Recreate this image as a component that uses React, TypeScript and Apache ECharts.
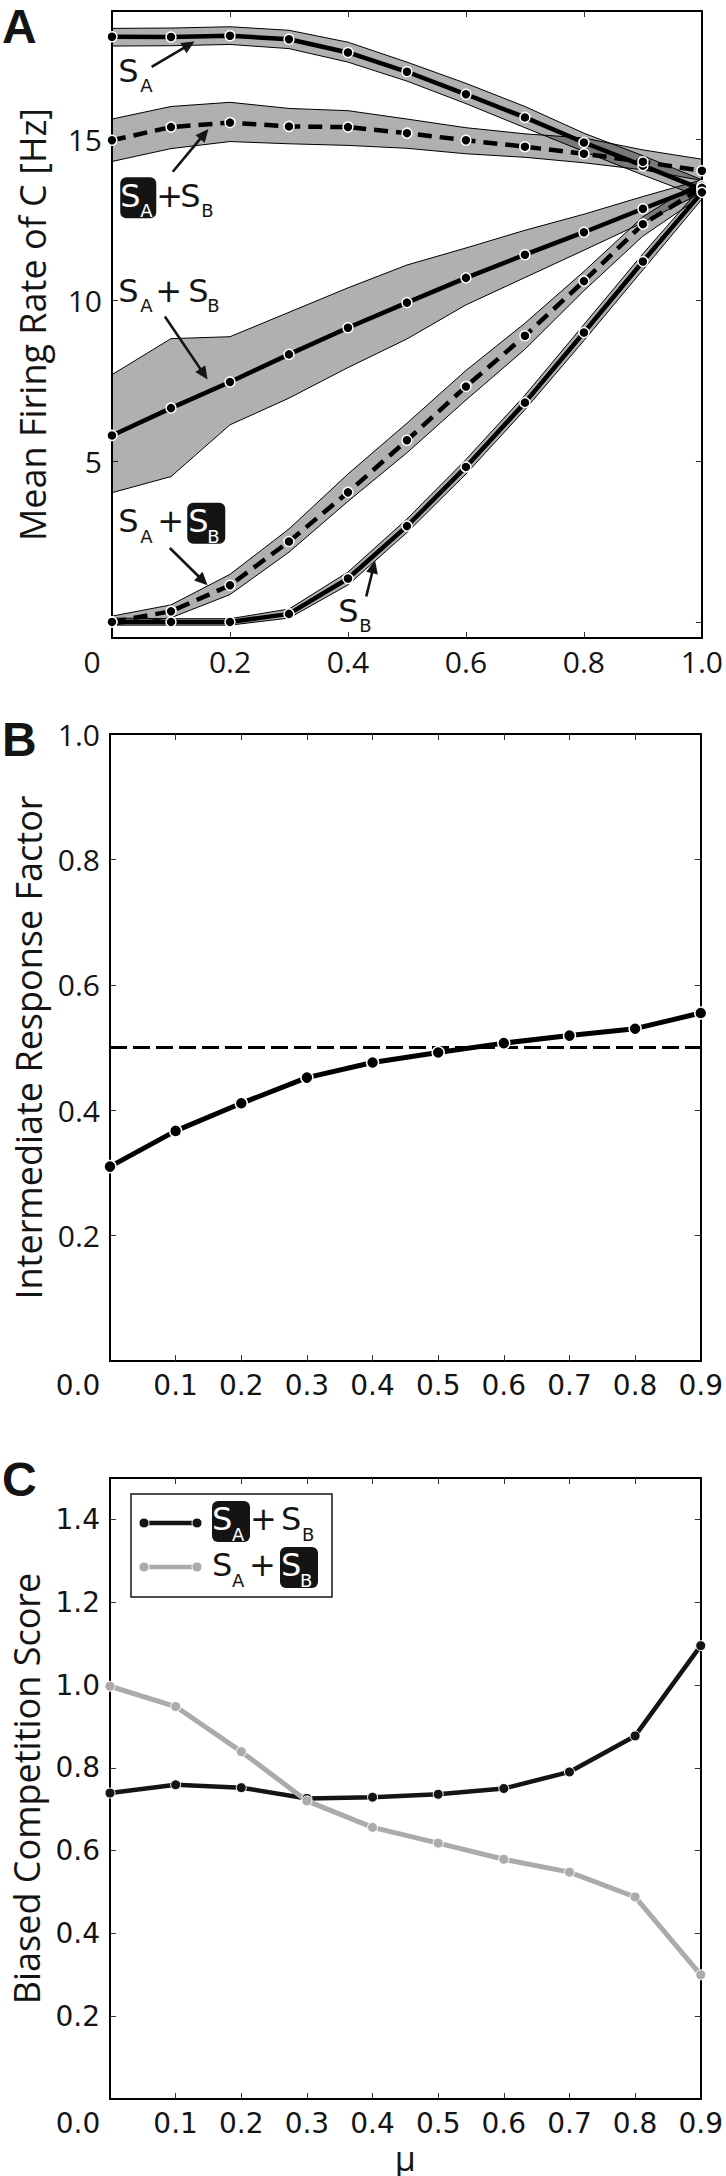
import { useEffect, useRef } from 'react';
import * as echarts from 'echarts';

// ---------------- data ----------------
const MU_A = [0, 0.1, 0.2, 0.3, 0.4, 0.5, 0.6, 0.7, 0.8, 0.9, 1.0];
const MU_BC = [0, 0.1, 0.2, 0.3, 0.4, 0.5, 0.6, 0.7, 0.8, 0.9];

// Panel A: mean firing rate of C [Hz] (line) with its shaded range
const RATE_SA = [18.2, 18.19, 18.23, 18.12, 17.71, 17.11, 16.41, 15.69, 14.91, 14.19, 13.45];
const RATE_SA_UP = [18.46, 18.47, 18.51, 18.4, 18.03, 17.41, 16.75, 16.03, 15.2, 14.5, 13.75];
const RATE_SA_LO = [17.91, 17.92, 17.96, 17.83, 17.41, 16.82, 16.12, 15.37, 14.63, 13.9, 13.2];

const RATE_ATT_A = [14.98, 15.39, 15.53, 15.41, 15.39, 15.2, 14.98, 14.78, 14.56, 14.31, 14.03];
const RATE_ATT_A_UP = [15.64, 16.03, 16.16, 15.97, 15.9, 15.64, 15.37, 15.18, 15.05, 14.68, 14.39];
const RATE_ATT_A_LO = [14.32, 14.72, 14.94, 14.87, 14.82, 14.73, 14.56, 14.45, 14.28, 14.06, 13.73];

const RATE_PAIR = [5.8, 6.65, 7.46, 8.32, 9.15, 9.93, 10.7, 11.42, 12.12, 12.85, 13.56];
const RATE_PAIR_UP = [7.69, 8.81, 8.87, 9.63, 10.39, 11.1, 11.63, 12.18, 12.68, 13.23, 13.75];
const RATE_PAIR_LO = [4.02, 4.52, 6.13, 6.96, 7.91, 8.8, 9.86, 10.71, 11.56, 12.42, 13.35];

const RATE_ATT_B = [0, 0.33, 1.14, 2.5, 4.03, 5.65, 7.32, 8.9, 10.6, 12.37, 13.5];
const RATE_ATT_B_UP = [0.18, 0.53, 1.48, 2.89, 4.6, 6.18, 7.82, 9.29, 10.9, 12.6, 13.75];
const RATE_ATT_B_LO = [-0.1, 0.13, 0.85, 2.17, 3.75, 5.26, 6.9, 8.48, 10.3, 12.0, 13.25];

const RATE_SB = [0, 0, 0, 0.25, 1.35, 2.98, 4.82, 6.82, 9.0, 11.21, 13.36];
const RATE_SB_UP = [0.12, 0.1, 0.1, 0.4, 1.55, 3.2, 5.05, 7.05, 9.25, 11.45, 13.55];
const RATE_SB_LO = [-0.1, -0.1, -0.1, 0.12, 1.15, 2.78, 4.6, 6.6, 8.75, 10.95, 13.15];

// Panel B: intermediate response factor
const IRF = [0.31, 0.367, 0.411, 0.452, 0.476, 0.492, 0.507, 0.519, 0.53, 0.555];
const IRF_REFERENCE = 0.5;

// Panel C: biased competition score
const BCS_ATT_A = [0.739, 0.759, 0.752, 0.726, 0.729, 0.736, 0.75, 0.79, 0.877, 1.095];
const BCS_ATT_B = [0.997, 0.948, 0.839, 0.72, 0.656, 0.618, 0.579, 0.548, 0.488, 0.3];

// tick values / labels
const A_X_TICKS = [0.2, 0.4, 0.6, 0.8];
const A_X_LABELS = [0, 0.2, 0.4, 0.6, 0.8, 1.0];
const A_Y_TICKS = [0, 5, 10, 15];
const A_Y_LABELS = [5, 10, 15];
const BC_X_TICKS = [0.1, 0.2, 0.3, 0.4, 0.5, 0.6, 0.7, 0.8];
const BC_X_LABELS = [0, 0.1, 0.2, 0.3, 0.4, 0.5, 0.6, 0.7, 0.8, 0.9];
const B_Y_TICKS = [0.2, 0.4, 0.6, 0.8];
const B_Y_LABELS = [0.2, 0.4, 0.6, 0.8, 1.0];
const C_Y_TICKS = [0.2, 0.4, 0.6, 0.8, 1.0, 1.2, 1.4];
const C_Y_LABELS = [0.2, 0.4, 0.6, 0.8, 1.0, 1.2, 1.4];

// ---------------- style / layout ----------------
const INK = '#141414';
const GREY = '#ababab';
const BAND_FILL = 'rgba(0,0,0,0.31)';
const F_OPEN = '"Open Sans", sans-serif';
const F_DV = '"DejaVu Sans", sans-serif';
const F_PANEL = '"Liberation Sans", Arial, sans-serif';

const GRID_A = { left: 112, top: 11, width: 595, height: 627 };
const GRID_B = { left: 110, top: 734, width: 595, height: 627 };
const GRID_C = { left: 110, top: 1478, width: 595, height: 625 };

const f1 = (v: number) => v.toFixed(1);

function xAxes(gridIndex: number, min: number, max: number, ticks: number[], labels: number[],
  fmt: (v: number) => string, font: string, fontSize: number, margin: number, firstShift: number, extra: any = {}) {
  const line = { show: true, onZero: false, lineStyle: { color: '#000', width: 2 } };
  const tick = { show: true, inside: true, length: 6, lineStyle: { color: '#333', width: 1 }, customValues: ticks };
  return [
    {
      type: 'value', gridIndex, position: 'bottom', min, max,
      axisLine: line, axisTick: tick, splitLine: { show: false },
      axisLabel: {
        show: true, customValues: labels, margin, fontFamily: font, fontSize, color: INK,
        formatter: (v: number) => (v === labels[0] ? `{first|${fmt(v)}}` : fmt(v)),
        rich: { first: { fontFamily: font, fontSize, color: INK, padding: [0, firstShift * 2, 0, 0] } },
      },
      ...extra,
    },
    {
      type: 'value', gridIndex, position: 'top', min, max,
      axisLine: line, axisTick: tick, splitLine: { show: false }, axisLabel: { show: false },
    },
  ];
}

function yAxes(gridIndex: number, min: number, max: number, ticks: number[], labels: number[],
  fmt: (v: number) => string, font: string, fontSize: number, name: string, nameGap: number) {
  const line = { show: true, onZero: false, lineStyle: { color: '#000', width: 2 } };
  const tick = { show: true, inside: true, length: 6, lineStyle: { color: '#333', width: 1 }, customValues: ticks };
  return [
    {
      type: 'value', gridIndex, position: 'left', min, max,
      axisLine: line, axisTick: tick, splitLine: { show: false },
      axisLabel: { show: true, customValues: labels, margin: 10, fontFamily: font, fontSize, color: INK, formatter: fmt },
      name, nameLocation: 'middle', nameGap,
      nameTextStyle: { fontFamily: F_OPEN, fontSize: 36, color: INK },
    },
    {
      type: 'value', gridIndex, position: 'right', min, max,
      axisLine: line, axisTick: tick, splitLine: { show: false }, axisLabel: { show: false },
    },
  ];
}

function band(up: number[], lo: number[]) {
  return {
    type: 'custom', xAxisIndex: 0, yAxisIndex: 0, silent: true, z: 2,
    data: [[0, 0]],
    renderItem: (_p: any, api: any) => {
      const pts: number[][] = [];
      for (let i = 0; i < MU_A.length; i++) pts.push(api.coord([MU_A[i], up[i]]));
      for (let i = MU_A.length - 1; i >= 0; i--) pts.push(api.coord([MU_A[i], lo[i]]));
      return { type: 'polygon', shape: { points: pts }, style: { fill: BAND_FILL, stroke: '#000', lineWidth: 1 } };
    },
  };
}

function rateLine(name: string, vals: number[], dashed: boolean) {
  return {
    type: 'line', name, xAxisIndex: 0, yAxisIndex: 0, z: 3,
    data: MU_A.map((x, i) => [x, vals[i]]),
    symbol: 'circle', symbolSize: 10, showAllSymbol: true,
    lineStyle: { color: '#000', width: 4.5, type: dashed ? [14, 8] : 'solid' },
    itemStyle: { color: '#000', borderColor: '#fff', borderWidth: 1.5 },
  };
}

function buildOption(): any {
  return {
    animation: false,
    backgroundColor: '#fff',
    grid: [
      { ...GRID_A, containLabel: false },
      { ...GRID_B, containLabel: false },
      { ...GRID_C, containLabel: false },
    ],
    xAxis: [
      ...xAxes(0, 0, 1, A_X_TICKS, A_X_LABELS, (v) => (v === 0 ? '0' : f1(v)), F_OPEN, 30, 8, 20),
      ...xAxes(1, 0, 0.9, BC_X_TICKS, BC_X_LABELS, f1, F_DV, 28, 10, 32),
      ...xAxes(2, 0, 0.9, BC_X_TICKS, BC_X_LABELS, f1, F_DV, 28, 10, 32, {
        name: 'μ', nameLocation: 'middle', nameGap: 42,
        nameTextStyle: { fontFamily: F_OPEN, fontSize: 34, color: INK },
      }),
    ],
    yAxis: [
      ...yAxes(0, -0.5, 19, A_Y_TICKS, A_Y_LABELS, (v) => String(v), F_OPEN, 30, 'Mean Firing Rate of C [Hz]', 62),
      ...yAxes(1, 0, 1, B_Y_TICKS, B_Y_LABELS, f1, F_OPEN, 30, 'Intermediate Response Factor', 60),
      ...yAxes(2, 0, 1.5, C_Y_TICKS, C_Y_LABELS, f1, F_DV, 28, 'Biased Competition Score', 60),
    ],
    series: [
      band(RATE_SA_UP, RATE_SA_LO),
      band(RATE_ATT_A_UP, RATE_ATT_A_LO),
      band(RATE_PAIR_UP, RATE_PAIR_LO),
      band(RATE_ATT_B_UP, RATE_ATT_B_LO),
      band(RATE_SB_UP, RATE_SB_LO),
      rateLine('S_A', RATE_SA, false),
      rateLine('S_A(attended) + S_B', RATE_ATT_A, true),
      rateLine('S_A + S_B', RATE_PAIR, false),
      rateLine('S_A + S_B(attended)', RATE_ATT_B, true),
      rateLine('S_B', RATE_SB, false),
      {
        type: 'line', name: 'reference', xAxisIndex: 2, yAxisIndex: 2, z: 2, silent: true,
        data: [[MU_BC[0], IRF_REFERENCE], [MU_BC[MU_BC.length - 1], IRF_REFERENCE]],
        symbol: 'none', lineStyle: { color: '#000', width: 3, type: [17, 6] },
      },
      {
        type: 'line', name: 'Intermediate Response Factor', xAxisIndex: 2, yAxisIndex: 2, z: 3,
        data: MU_BC.map((x, i) => [x, IRF[i]]),
        symbol: 'circle', symbolSize: 12, showAllSymbol: true,
        lineStyle: { color: '#000', width: 5 },
        itemStyle: { color: '#000', borderColor: '#fff', borderWidth: 1.5 },
      },
      {
        type: 'line', name: 'S_A(attended) + S_B', xAxisIndex: 4, yAxisIndex: 4, z: 3,
        data: MU_BC.map((x, i) => [x, BCS_ATT_A[i]]),
        symbol: 'circle', symbolSize: 10, showAllSymbol: true,
        lineStyle: { color: INK, width: 4.5 },
        itemStyle: { color: INK, borderColor: '#fff', borderWidth: 1 },
      },
      {
        type: 'line', name: 'S_A + S_B(attended)', xAxisIndex: 4, yAxisIndex: 4, z: 3,
        data: MU_BC.map((x, i) => [x, BCS_ATT_B[i]]),
        symbol: 'circle', symbolSize: 10, showAllSymbol: true,
        lineStyle: { color: GREY, width: 5 },
        itemStyle: { color: GREY, borderColor: '#fff', borderWidth: 1 },
      },
    ],
  };
}

// ---------------- annotations (panel A, data coordinates) ----------------
type Part = { t?: string; dx?: number; sub?: boolean; inv?: boolean; box?: number[] };
const MAIN_FS = 32;
const SUB_FS = 18;
const SUB_DROP = 10;
const LSB: Record<string, number> = { S: 2, '+': 3, A: 0, B: 2 };

const LBL_SA: Part[] = [{ t: 'S', dx: 0 }, { t: 'A', dx: 20, sub: true }];
const LBL_SB: Part[] = [{ t: 'S', dx: 0 }, { t: 'B', dx: 20, sub: true }];
const LBL_ATT_A: Part[] = [
  { box: [0, -30, 36, 41] }, { t: 'S', dx: 2, inv: true }, { t: 'A', dx: 20, sub: true, inv: true },
  { t: '+', dx: 39 }, { t: 'S', dx: 62 }, { t: 'B', dx: 82, sub: true },
];
const LBL_PAIR: Part[] = [
  { t: 'S', dx: 0 }, { t: 'A', dx: 20, sub: true }, { t: '+', dx: 38 }, { t: 'S', dx: 70 }, { t: 'B', dx: 88, sub: true },
];
const LBL_ATT_B: Part[] = [
  { t: 'S', dx: 0 }, { t: 'A', dx: 20, sub: true }, { t: '+', dx: 40 },
  { box: [67, -30, 38, 41] }, { t: 'S', dx: 70, inv: true }, { t: 'B', dx: 88, sub: true, inv: true },
];
const LEG_ATT_A: Part[] = [
  { box: [0, -30, 38, 41] }, { t: 'S', dx: 2, inv: true }, { t: 'A', dx: 20, sub: true, inv: true },
  { t: '+', dx: 41 }, { t: 'S', dx: 71 }, { t: 'B', dx: 91, sub: true },
];
const LEG_ATT_B: Part[] = [
  { t: 'S', dx: 0 }, { t: 'A', dx: 18, sub: true }, { t: '+', dx: 38 },
  { box: [66, -30, 38, 41] }, { t: 'S', dx: 69, inv: true }, { t: 'B', dx: 87, sub: true, inv: true },
];

const ANNOTATIONS = [
  { parts: LBL_SA, at: [0.014, 16.79], from: [0.0672, 17.26], to: [0.14, 18.05] },
  { parts: LBL_ATT_A, at: [0.014, 12.9], from: [0.103, 14.0], to: [0.1635, 15.33] },
  { parts: LBL_PAIR, at: [0.014, 9.94], from: [0.0896, 9.5], to: [0.162, 7.54] },
  { parts: LBL_ATT_B, at: [0.014, 2.77], from: [0.098, 2.3], to: [0.162, 1.14] },
  { parts: LBL_SB, at: [0.387, -0.01], from: [0.431, 0.79], to: [0.446, 1.91] },
];

const LEGEND_BOX = { x: 131, y: 1494, w: 201, h: 103 };
const LEGEND_ROWS = [
  { y: 1523, color: INK, parts: LEG_ATT_A, tx: 212, base: 1531 },
  { y: 1567, color: GREY, parts: LEG_ATT_B, tx: 214, base: 1577 },
];
const LEGEND_LINE_X = [144, 197];

const PANEL_LETTERS = [
  { t: 'A', x: 2, base: 44 },
  { t: 'B', x: 2, base: 757 },
  { t: 'C', x: 2, base: 1497 },
];

function textEl(text: string, x: number, baseline: number, fs: number, font: string, fill: string, weight = 'normal') {
  const central = baseline - 0.36 * fs;
  return {
    type: 'text', x, y: central, silent: true, z: 10,
    style: {
      text, fontFamily: font, fontSize: fs, fontWeight: weight, fill,
      align: 'left', verticalAlign: 'middle', textAlign: 'left', textVerticalAlign: 'middle',
    },
  };
}

function labelEls(parts: Part[], x0: number, b0: number): any[] {
  const els: any[] = [];
  for (const p of parts) {
    if (p.box) {
      els.push({
        type: 'rect', silent: true, z: 10,
        shape: { x: x0 + p.box[0], y: b0 + p.box[1], width: p.box[2], height: p.box[3], r: 6 },
        style: { fill: INK },
      });
    } else if (p.t) {
      const fs = p.sub ? SUB_FS : MAIN_FS;
      const lsb = (LSB[p.t] || 0) * fs / MAIN_FS;
      els.push(textEl(p.t, x0 + (p.dx || 0) - lsb, b0 + (p.sub ? SUB_DROP : 0), fs, F_DV, p.inv ? '#fff' : INK));
    }
  }
  return els;
}

function arrowEls(x1: number, y1: number, x2: number, y2: number): any[] {
  const dx = x2 - x1, dy = y2 - y1;
  const len = Math.sqrt(dx * dx + dy * dy);
  const ux = dx / len, uy = dy / len;
  const hl = 13, hw = 6;
  const bx = x2 - ux * hl, by = y2 - uy * hl;
  return [
    { type: 'line', silent: true, z: 10, shape: { x1, y1, x2: bx + ux * 2, y2: by + uy * 2 }, style: { stroke: INK, lineWidth: 2.6 } },
    {
      type: 'polygon', silent: true, z: 10,
      shape: { points: [[x2, y2], [bx - uy * hw, by + ux * hw], [bx + uy * hw, by - ux * hw]] },
      style: { fill: INK },
    },
  ];
}

function buildGraphics(chart: any): any[] {
  const els: any[] = [];
  const toPx = (p: number[]) => chart.convertToPixel({ seriesIndex: 5 }, p);
  for (const a of ANNOTATIONS) {
    const at = toPx(a.at);
    const fr = toPx(a.from);
    const to = toPx(a.to);
    els.push(...labelEls(a.parts, at[0], at[1]));
    els.push(...arrowEls(fr[0], fr[1], to[0], to[1]));
  }
  // legend of panel C
  els.push({
    type: 'rect', silent: true, z: 9,
    shape: { x: LEGEND_BOX.x, y: LEGEND_BOX.y, width: LEGEND_BOX.w, height: LEGEND_BOX.h },
    style: { fill: '#fff', stroke: INK, lineWidth: 1.5 },
  });
  for (const r of LEGEND_ROWS) {
    els.push({
      type: 'line', silent: true, z: 10,
      shape: { x1: LEGEND_LINE_X[0], y1: r.y, x2: LEGEND_LINE_X[1], y2: r.y },
      style: { stroke: r.color, lineWidth: 4.5 },
    });
    for (const x of LEGEND_LINE_X) {
      els.push({ type: 'circle', silent: true, z: 11, shape: { cx: x, cy: r.y, r: 5 }, style: { fill: r.color, stroke: '#fff', lineWidth: 1 } });
    }
    els.push(...labelEls(r.parts, r.tx, r.base));
  }
  for (const p of PANEL_LETTERS) {
    els.push(textEl(p.t, p.x, p.base, 48, F_PANEL, INK, 'bold'));
  }
  return els;
}

export default function App() {
  const ref = useRef<HTMLDivElement>(null);
  useEffect(() => {
    const chart = echarts.init(ref.current as HTMLDivElement, null, { renderer: 'svg', width: 726, height: 2176 });
    chart.setOption(buildOption());
    chart.setOption({ graphic: { elements: buildGraphics(chart) } });
    return () => chart.dispose();
  }, []);
  return (
    <div
      ref={ref}
      style={{ position: 'absolute', left: 0, top: 0, width: 726, height: 2176, background: '#fff' }}
    />
  );
}
